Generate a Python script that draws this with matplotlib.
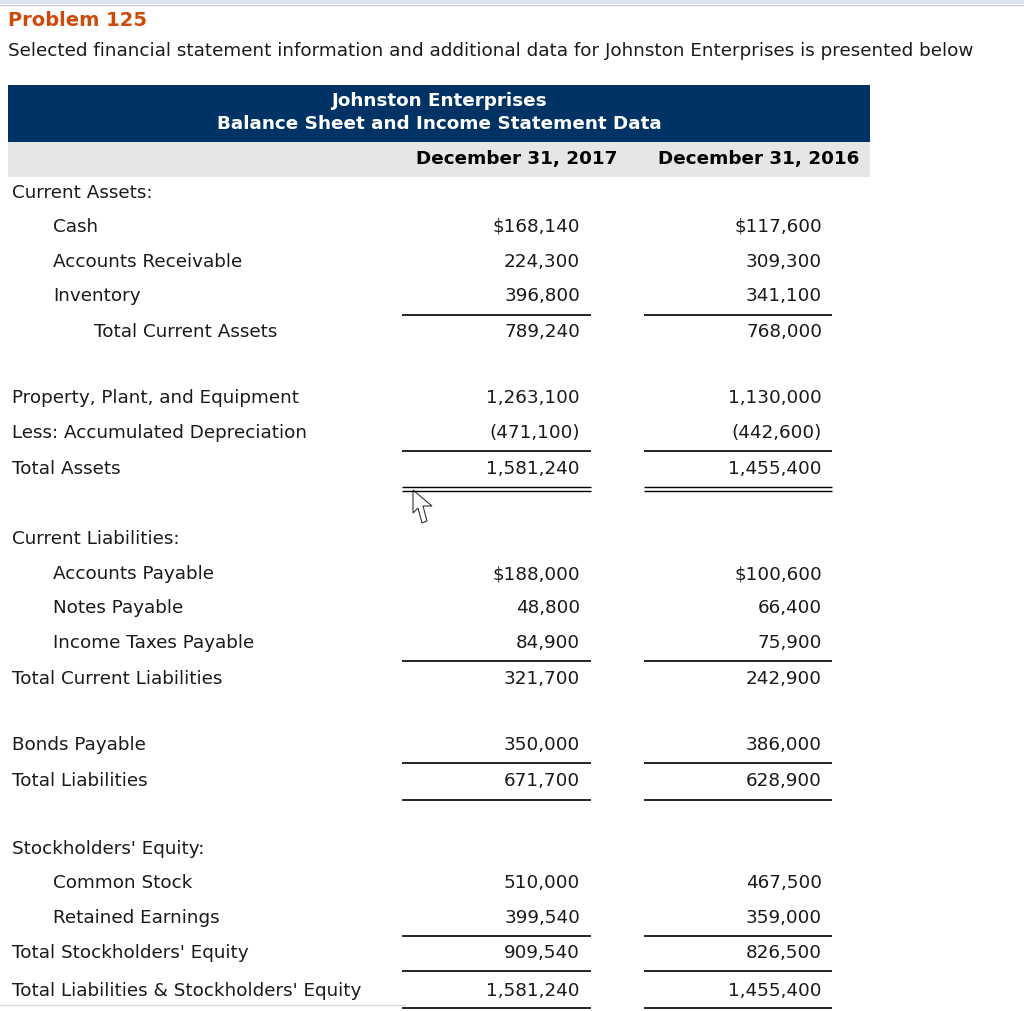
import matplotlib
matplotlib.use("Agg")
import matplotlib.pyplot as plt
from matplotlib.patches import Rectangle, Polygon

# ---- data ----
labels = ["Current Assets:", "Cash", "Accounts Receivable", "Inventory", "Total Current Assets",
          "Property, Plant, and Equipment", "Less: Accumulated Depreciation", "Total Assets",
          "Current Liabilities:", "Accounts Payable", "Notes Payable", "Income Taxes Payable",
          "Total Current Liabilities", "Bonds Payable", "Total Liabilities",
          "Stockholders' Equity:", "Common Stock", "Retained Earnings",
          "Total Stockholders' Equity", "Total Liabilities & Stockholders' Equity"]
indent = [0, 1, 1, 1, 2, 0, 0, 0, 0, 1, 1, 1, 0, 0, 0, 0, 1, 1, 0, 0]
values_2017 = [None, 168140, 224300, 396800, 789240, 1263100, -471100, 1581240,
               None, 188000, 48800, 84900, 321700, 350000, 671700,
               None, 510000, 399540, 909540, 1581240]
values_2016 = [None, 117600, 309300, 341100, 768000, 1130000, -442600, 1455400,
               None, 100600, 66400, 75900, 242900, 386000, 628900,
               None, 467500, 359000, 826500, 1455400]
dollar = [False, True, False, False, False, False, False, False,
          False, True, False, False, False, False, False,
          False, False, False, False, False]
col_headers = ["December 31, 2017", "December 31, 2016"]
title = "Problem 125"
subtitle = "Selected financial statement information and additional data for Johnston Enterprises is presented below"
table_title = ["Johnston Enterprises", "Balance Sheet and Income Statement Data"]

# ---- layout ----
row_y = [193, 227, 262, 296, 332, 398, 433, 469, 539, 574, 608, 643, 679, 745, 781,
         849, 883, 918, 953, 991]
rules = [(315, "s"), (451, "s"), (487, "d"), (661, "s"), (763, "s"), (800, "s"),
         (936, "s"), (971, "s"), (1008, "s")]
indent_x = [12, 53, 94]
val_right = [580, 822]
rule_span = [(402, 591), (644, 832)]

W, H = 1024, 1011
fig = plt.figure(figsize=(W / 100, H / 100), dpi=100)
ax = fig.add_axes([0, 0, 1, 1])
ax.set_xlim(0, W)
ax.set_ylim(H, 0)
ax.axis("off")

FONT = "DejaVu Sans"
fs = 13.2
txt = "#1a1a1a"

# top border
ax.add_patch(Rectangle((0, 0), W, 4, color="#dde3ea", lw=0))
ax.plot([0, W], [4.5, 4.5], color="#c8d0da", lw=1)

ax.text(8, 20, title, color="#cc4a0a", fontsize=14, fontweight="bold", family=FONT, va="center")
ax.text(8, 51, subtitle, color=txt, fontsize=fs, family=FONT, va="center", clip_on=True)

# header
ax.add_patch(Rectangle((8, 85), 862, 57, color="#003365", lw=0))
ax.text(439, 101, table_title[0], color="white", fontsize=fs, fontweight="bold", family=FONT,
        ha="center", va="center")
ax.text(439, 124, table_title[1], color="white", fontsize=fs, fontweight="bold", family=FONT,
        ha="center", va="center")
ax.add_patch(Rectangle((8, 142), 862, 35, color="#e6e6e6", lw=0))
ax.text(617, 159, col_headers[0], color="black", fontsize=fs, fontweight="bold", family=FONT,
        ha="right", va="center")
ax.text(859, 159, col_headers[1], color="black", fontsize=fs, fontweight="bold", family=FONT,
        ha="right", va="center")


def fmt(v, d):
    if v is None:
        return ""
    s = f"{abs(v):,}"
    if v < 0:
        s = f"({s})"
    if d:
        s = "$" + s
    return s


for lab, ind, v1, v2, d, y in zip(labels, indent, values_2017, values_2016, dollar, row_y):
    ax.text(indent_x[ind], y, lab, color=txt, fontsize=fs, family=FONT, va="center")
    for v, xr in zip((v1, v2), val_right):
        s = fmt(v, d)
        if s:
            ax.text(xr, y, s, color=txt, fontsize=fs, family=FONT, va="center", ha="right")

for y, st in rules:
    for x0, x1 in rule_span:
        if st == "s":
            ax.plot([x0, x1], [y, y], color="black", lw=1.2, solid_capstyle="butt")
        else:
            ax.plot([x0, x1], [y, y], color="black", lw=1.0, solid_capstyle="butt")
            ax.plot([x0, x1], [y + 3.5, y + 3.5], color="black", lw=1.0, solid_capstyle="butt")

# faint line bottom-left
ax.plot([0, 405], [1005, 1005], color="#d8d8d8", lw=1)

# mouse cursor
cur = [(413, 490), (413, 513), (418, 508), (422, 523), (427, 521), (423, 506), (432, 506)]
ax.add_patch(Polygon(cur, closed=True, facecolor="white", edgecolor="#333333", lw=0.8))

fig.savefig("out.png", dpi=100, facecolor="white")
